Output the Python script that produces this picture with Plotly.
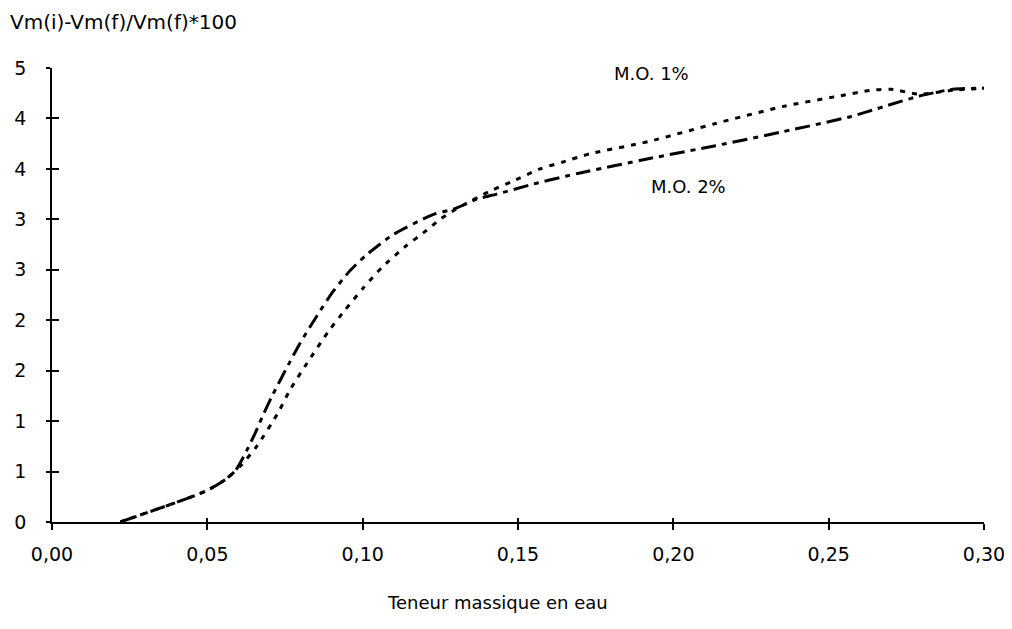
import plotly.graph_objects as go

# M.O. 1% (dotted curve)
x_mo1 = [0.022, 0.0294, 0.0369, 0.0423, 0.0498, 0.0562, 0.0605, 0.0659, 0.0729, 0.0766,
         0.082, 0.089, 0.0943, 0.1002, 0.1061, 0.1137, 0.1206, 0.1249, 0.130, 0.141,
         0.1485, 0.1571, 0.1646, 0.1732, 0.1919, 0.2136, 0.2355, 0.2529, 0.2638, 0.270,
         0.279, 0.290, 0.300]
y_mo1 = [0.0, 0.08, 0.16, 0.22, 0.31, 0.43, 0.55, 0.75, 1.09, 1.31,
         1.57, 1.89, 2.10, 2.32, 2.52, 2.73, 2.89, 3.00, 3.10, 3.28,
         3.38, 3.50, 3.57, 3.65, 3.77, 3.95, 4.12, 4.22, 4.28, 4.29,
         4.24, 4.28, 4.30]

# M.O. 2% (dash-dot curve)
x_mo2 = [0.022, 0.0294, 0.0369, 0.0423, 0.0498, 0.0562, 0.0595, 0.0627, 0.0654, 0.0675,
         0.0707, 0.0761, 0.0798, 0.0852, 0.0906, 0.0959, 0.1013, 0.1099, 0.1228, 0.1292,
         0.1367, 0.1432, 0.155, 0.1657, 0.170, 0.1919, 0.2136, 0.2355, 0.2573, 0.268,
         0.279, 0.290, 0.300]
y_mo2 = [0.0, 0.08, 0.16, 0.22, 0.31, 0.43, 0.53, 0.71, 0.88, 1.03,
         1.24, 1.56, 1.77, 2.04, 2.29, 2.49, 2.65, 2.85, 3.05, 3.10,
         3.20, 3.25, 3.35, 3.43, 3.46, 3.60, 3.73, 3.87, 4.02, 4.12,
         4.22, 4.29, 4.30]

x_tickvals = [0.0, 0.05, 0.10, 0.15, 0.20, 0.25, 0.30]
x_ticktext = ["0,00", "0,05", "0,10", "0,15", "0,20", "0,25", "0,30"]
y_tickvals = [0.0, 0.5, 1.0, 1.5, 2.0, 2.5, 3.0, 3.5, 4.0, 4.5]
y_ticktext = ["0", "1", "1", "2", "2", "3", "3", "4", "4", "5"]

series_names = ["M.O. 1%", "M.O. 2%"]
y_title = "Vm(i)-Vm(f)/Vm(f)*100"
x_title = "Teneur massique en eau"

FONT = "DejaVu Sans, Verdana, sans-serif"

fig = go.Figure()
fig.add_trace(go.Scatter(x=x_mo1, y=y_mo1, mode="lines", name=series_names[0],
                         line=dict(color="black", width=3, dash="5px,7px", shape="spline", smoothing=0.6),
                         cliponaxis=False, showlegend=False))
fig.add_trace(go.Scatter(x=x_mo2, y=y_mo2, mode="lines", name=series_names[1],
                         line=dict(color="black", width=3, dash="15px,6px,5px,6px", shape="spline", smoothing=0.6),
                         cliponaxis=False, showlegend=False))
# empty trace to host the overlay axes that draw the inner half of the crossing ticks
fig.add_trace(go.Scatter(x=[], y=[], xaxis="x2", yaxis="y2", showlegend=False, hoverinfo="skip"))

fig.update_layout(
    width=1004, height=621,
    paper_bgcolor="white", plot_bgcolor="white",
    margin=dict(l=44, r=28, t=60, b=107),
    font=dict(family=FONT, size=19, color="black"),
    xaxis=dict(range=[0, 0.30], tickvals=x_tickvals, ticktext=x_ticktext, automargin=False,
               showgrid=False, zeroline=False, showline=True, linecolor="black", linewidth=1.5,
               ticks="outside", ticklen=6, tickwidth=1.5, tickcolor="black",
               ticklabelstandoff=8, tickfont=dict(size=19)),
    yaxis=dict(range=[0, 4.5], tickvals=y_tickvals, ticktext=y_ticktext, automargin=False,
               showgrid=False, zeroline=False, showline=True, linecolor="black", linewidth=1.5,
               ticks="outside", ticklen=4, tickwidth=1.5, tickcolor="black",
               ticklabelstandoff=16, tickfont=dict(size=19)),
    xaxis2=dict(overlaying="x", anchor="y2", range=[0, 0.30], tickvals=x_tickvals,
                showticklabels=False, showgrid=False, zeroline=False, showline=False,
                ticks="inside", ticklen=4, tickwidth=1.5, tickcolor="black", side="bottom"),
    yaxis2=dict(overlaying="y", anchor="x2", range=[0, 4.5], tickvals=y_tickvals,
                showticklabels=False, showgrid=False, zeroline=False, showline=False,
                ticks="inside", ticklen=7, tickwidth=1.5, tickcolor="black", side="left"),
    annotations=[
        dict(text=y_title, xref="paper", yref="paper", x=-0.0472, y=1.1014,
             xanchor="left", yanchor="middle", showarrow=False, font=dict(size=20)),
        dict(text=x_title, xref="paper", yref="paper", x=0.4775, y=-0.178,
             xanchor="center", yanchor="middle", showarrow=False, font=dict(size=18)),
        dict(text=series_names[0], xref="x", yref="y", x=0.193, y=4.45,
             xanchor="center", yanchor="middle", showarrow=False, font=dict(size=18)),
        dict(text=series_names[1], xref="x", yref="y", x=0.205, y=3.33,
             xanchor="center", yanchor="middle", showarrow=False, font=dict(size=18)),
    ],
)

fig.write_html("out.html")
